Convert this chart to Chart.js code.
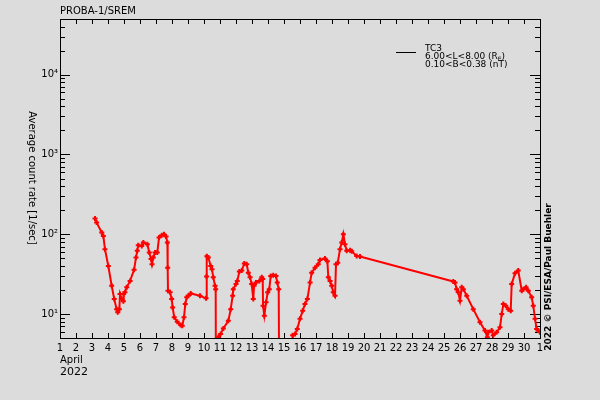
<!DOCTYPE html>
<html>
<head>
<meta charset="utf-8">
<script src="https://cdn.jsdelivr.net/npm/chart.js@4"></script>
<style>
  html, body { margin: 0; padding: 0; background: #dcdcdc; }
  canvas { display: block; }
</style>
</head>
<body>
<canvas id="sremChart" width="600" height="400"></canvas>
<script>
// SREM TC3 count rate, April 2022 (day of month, 31 = 1 May)
const dayValues = [3.19, 3.29, 3.61, 3.71, 3.81, 4.02, 4.23, 4.39, 4.54, 4.61, 4.71, 4.75, 4.86, 4.96, 4.98,
  5.06, 5.17, 5.38, 5.63, 5.75, 5.83, 5.89, 6.11, 6.21, 6.46, 6.58, 6.69, 6.75, 6.83, 6.94, 7.08, 7.19, 7.36,
  7.5, 7.63, 7.71, 7.73, 7.75, 7.88, 7.98, 8.04, 8.14, 8.33, 8.54, 8.64, 8.75, 8.83, 8.92, 9.02, 9.17, 9.75,
  10.13, 10.16, 10.18, 10.27, 10.42, 10.5, 10.58, 10.69, 10.73, 10.75, 10.89, 11.04, 11.21, 11.52, 11.67,
  11.79, 11.83, 12.0, 12.08, 12.21, 12.36, 12.52, 12.67, 12.77, 12.88, 12.98, 13.08, 13.13, 13.25, 13.46,
  13.61, 13.67, 13.69, 13.77, 13.88, 13.98, 14.08, 14.17, 14.33, 14.5, 14.58, 14.67, 14.7, 15.1, 15.5, 15.54,
  15.69, 15.83, 16.0, 16.17, 16.31, 16.46, 16.63, 16.73, 16.94, 17.14, 17.25, 17.56, 17.71, 17.77, 17.88,
  17.98, 18.08, 18.19, 18.25, 18.36, 18.5, 18.61, 18.71, 18.81, 18.92, 19.13, 19.23, 19.54, 19.75, 25.58,
  25.69, 25.79, 25.89, 26.0, 26.11, 26.21, 26.42, 26.83, 27.25, 27.56, 27.71, 27.77, 27.98, 28.08, 28.29,
  28.5, 28.61, 28.71, 28.86, 29.02, 29.17, 29.23, 29.44, 29.64, 29.86, 29.96, 30.13, 30.27, 30.48, 30.58,
  30.69, 30.79, 30.89, 31.0];
const countRates = [158, 140, 105, 95, 65, 40, 22.6, 15.4, 11.5, 10.5, 11.5, 17.8, 15.4, 14.4, 17.8,
  18.7, 21.6, 26, 35.8, 51, 62, 73, 71, 79, 75, 59, 49, 42, 51, 59, 59, 91, 97,
  100, 94, 79, 38, 19.6, 18.7, 15.4, 12.1, 9.1, 8.0, 7.3, 7.1, 9.1, 13.3, 16.2, 16.9, 18.1, 16.9,
  15.7, 29.6, 53, 51, 40, 36.5, 28.8, 22.6, 20.5, 1, 5.1, 5.6, 6.6, 8.2, 11.5,
  16.9, 20.5, 23.7, 26, 34, 35, 43, 42, 33, 28.8, 23.7, 15.4, 22.6, 24.9, 26,
  28.8, 27.4, 12.7, 9.5, 14, 18.7, 20.5, 30, 30.7, 30, 24.9, 20.5, 1, null, 1, 5.4,
  5.6, 6.5, 8.7, 11, 13.3, 15.4, 24.9, 33, 38, 42, 47.7, 49.7, 46, 28.8, 26,
  22.6, 18.7, 16.9, 42, 44, 65, 79, 100, 75, 62, 63, 61, 53.5, 52.6, 25.6,
  24.9, 20.5, 18.7, 14.7, 21.6, 20.5, 16.9, 11.5, 7.9, 6.2, 5.1, 5.9, 6.2, 5.4, 5.9,
  6.8, 10, 13.3, 12.7, 11.5, 11, 23.7, 32.5, 35, 19.6, 20.5, 21.6, 19.6, 16.2, 12.7,
  8.7, 6.5, 6.2, 5.9];

const xTickDays = [];
const xTickLabels = [];
for (let d = 1; d <= 31; d++) {
  xTickDays.push(d);
  xTickLabels.push(d === 31 ? '1' : String(d));
}
const yTickValues = [10, 100, 1000, 10000];
const yTickLabels = ['10¹', '10²', '10³', '10⁴'];

const titleText = 'PROBA-1/SREM';
const legendName = 'TC3';
const legendL = '6.00<L<8.00 (R';
const legendB = '0.10<B<0.38 (nT)';
const yTitle = 'Average count rate [1/sec]';
const creditText = '2022 © PSI/ESA/Paul Buehler';
const monthText = 'April';
const yearText = '2022';

const FONT = '"DejaVu Sans", sans-serif';

// frame, inward ticks on all four sides, and the free texts
const framePlugin = {
  id: 'frame',
  beforeDatasetsDraw(chart) {
    const { ctx, chartArea: a, scales } = chart;
    ctx.save();
    ctx.strokeStyle = '#000';
    ctx.lineWidth = 1;
    ctx.strokeRect(a.left + 0.5, a.top + 0.5, a.right - a.left, a.bottom - a.top);
    ctx.beginPath();
    xTickDays.forEach(d => {
      const px = Math.round(scales.x.getPixelForValue(d)) + 0.5;
      ctx.moveTo(px, a.bottom); ctx.lineTo(px, a.bottom - 5);
      ctx.moveTo(px, a.top); ctx.lineTo(px, a.top + 5);
    });
    for (let k = 0; k <= 4; k++) {
      for (let m = 1; m <= 9; m++) {
        const v = m * Math.pow(10, k);
        if (v < 5 || v > 50000) continue;
        const py = Math.round(scales.y.getPixelForValue(v)) + 0.5;
        const len = m === 1 ? 10 : 5;
        ctx.moveTo(a.left, py); ctx.lineTo(a.left + len, py);
        ctx.moveTo(a.right, py); ctx.lineTo(a.right - len, py);
      }
    }
    ctx.stroke();
    ctx.restore();
  },
  afterDraw(chart) {
    const { ctx } = chart;
    ctx.save();
    ctx.fillStyle = '#000';
    ctx.textBaseline = 'alphabetic';
    ctx.textAlign = 'left';
    ctx.font = '10px ' + FONT;
    ctx.fillText(titleText, 60, 14);
    ctx.fillText(monthText, 60, 363);
    ctx.font = '11px ' + FONT;
    ctx.fillText(yearText, 60, 375);

    // legend
    ctx.strokeStyle = '#000';
    ctx.lineWidth = 1;
    ctx.beginPath();
    ctx.moveTo(396, 52.5); ctx.lineTo(416, 52.5);
    ctx.stroke();
    ctx.font = '9px ' + FONT;
    ctx.fillText(legendName, 425, 51);
    ctx.fillText(legendL, 425, 59);
    const w = ctx.measureText(legendL).width;
    ctx.font = '6px ' + FONT;
    ctx.fillText('E', 425 + w, 61);
    const we = ctx.measureText('E').width;
    ctx.font = '9px ' + FONT;
    ctx.fillText(')', 425 + w + we, 59);
    ctx.fillText(legendB, 425, 67);

    // axis title, reading downward
    ctx.textAlign = 'center';
    ctx.textBaseline = 'middle';
    ctx.font = '10px ' + FONT;
    ctx.save();
    ctx.translate(32, 178);
    ctx.rotate(Math.PI / 2);
    ctx.fillText(yTitle, 0, 0);
    ctx.restore();

    // credit, reading upward
    ctx.font = 'bold 9px ' + FONT;
    ctx.save();
    ctx.translate(549, 277);
    ctx.rotate(-Math.PI / 2);
    ctx.fillText(creditText, 0, 0);
    ctx.restore();
    ctx.restore();
  }
};

new Chart(document.getElementById('sremChart'), {
  type: 'line',
  data: {
    labels: dayValues,
    datasets: [{
      data: dayValues.map((d, i) => ({ x: d, y: countRates[i] })),
      borderColor: '#ff0000',
      backgroundColor: '#ff0000',
      borderWidth: 2,
      tension: 0,
      spanGaps: false,
      pointStyle: 'cross',
      pointRadius: 2.5,
      pointBorderWidth: 2,
      pointBorderColor: '#ff0000'
    }]
  },
  options: {
    responsive: false,
    animation: false,
    devicePixelRatio: 1,
    layout: { padding: { top: 19, right: 60, left: 0, bottom: 0 } },
    plugins: { legend: { display: false }, tooltip: { enabled: false } },
    scales: {
      x: {
        type: 'linear',
        min: 1,
        max: 31,
        grid: { display: false, drawTicks: false },
        border: { display: false },
        afterBuildTicks: s => { s.ticks = xTickDays.map(v => ({ value: v })); },
        afterFit: s => { s.height = 62; },
        ticks: {
          autoSkip: false,
          maxRotation: 0,
          padding: 4,
          color: '#000',
          font: { family: FONT, size: 10 },
          callback: v => xTickLabels[xTickDays.indexOf(v)]
        }
      },
      y: {
        type: 'logarithmic',
        min: 5,
        max: 50000,
        grid: { display: false, drawTicks: false },
        border: { display: false },
        afterBuildTicks: s => { s.ticks = yTickValues.map(v => ({ value: v })); },
        afterFit: s => { s.width = 60; },
        ticks: {
          autoSkip: false,
          padding: 2,
          color: '#000',
          font: { family: FONT, size: 10 },
          callback: v => yTickLabels[yTickValues.indexOf(v)]
        }
      }
    }
  },
  plugins: [framePlugin]
});
</script>
</body>
</html>
